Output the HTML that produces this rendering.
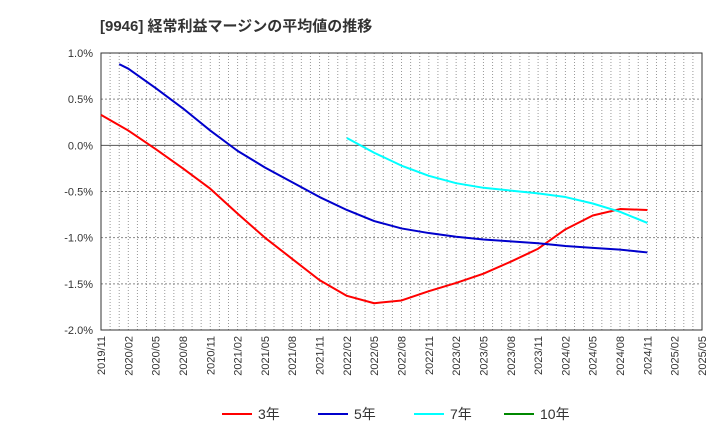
<!DOCTYPE html>
<html><head><meta charset="utf-8"><style>
body{margin:0;background:#fff;font-family:"Liberation Sans","Noto Sans CJK JP",sans-serif}
</style></head><body>
<svg width="720" height="440" xmlns="http://www.w3.org/2000/svg" font-family="Liberation Sans, Noto Sans CJK JP, sans-serif">
<text x="100" y="31" font-size="15" font-weight="bold" fill="#333">[9946]  経常利益マージンの平均値の推移</text>
<g id="grid"></g>
<g id="axes"></g>
<g id="series"></g>
<g id="legend"></g>
</svg>
<script>
const xLabels=["2019/11","2020/02","2020/05","2020/08","2020/11","2021/02","2021/05","2021/08","2021/11","2022/02","2022/05","2022/08","2022/11","2023/02","2023/05","2023/08","2023/11","2024/02","2024/05","2024/08","2024/11","2025/02","2025/05"];
const yTicks=[1.0,0.5,0.0,-0.5,-1.0,-1.5,-2.0];
const s3=[0.33,0.16,-0.04,-0.25,-0.47,-0.74,-1.0,-1.23,-1.46,-1.63,-1.71,-1.68,-1.58,-1.49,-1.39,-1.26,-1.12,-0.91,-0.76,-0.69,-0.70];
const s3Months=[0,3,6,9,12,15,18,21,24,27,30,33,36,39,42,45,48,51,54,57,60];
const s5=[0.88,0.83,0.62,0.40,0.16,-0.06,-0.24,-0.40,-0.56,-0.70,-0.82,-0.90,-0.95,-0.99,-1.02,-1.04,-1.06,-1.09,-1.11,-1.13,-1.16];
const s5Months=[2,3,6,9,12,15,18,21,24,27,30,33,36,39,42,45,48,51,54,57,60];
const s7=[0.08,-0.08,-0.22,-0.33,-0.41,-0.46,-0.49,-0.52,-0.56,-0.63,-0.72,-0.84];
const s7Months=[27,30,33,36,39,42,45,48,51,54,57,60];
const s10=[];
const s10Months=[];
const L=101,R=702,T=53,B=330,NS="http://www.w3.org/2000/svg";
const xm=m=>L+(R-L)*m/66;
const y=v=>T+(1.0-v)/3.0*(B-T);
function el(t,a,p){const e=document.createElementNS(NS,t);for(const k in a)e.setAttribute(k,a[k]);p.appendChild(e);return e;}
const grid=document.getElementById('grid'),axes=document.getElementById('axes'),ser=document.getElementById('series'),leg=document.getElementById('legend');
for(let m=1;m<66;m++){const l=el('line',{x1:xm(m),x2:xm(m),y1:T,y2:B,stroke:'#999','stroke-dasharray':'1,2','stroke-width':1},grid);}
yTicks.forEach(v=>{const l=el('line',{x1:L,x2:R,y1:y(v),y2:y(v),stroke:v===0?'#555':'#888','stroke-dasharray':v===0?'none':'2,2','stroke-width':1},grid);
const t=el('text',{x:L-8,y:y(v)+4,'text-anchor':'end','font-size':11,fill:'#333'},axes);t.textContent=v.toFixed(1)+'%';});
const fr=el('rect',{x:L,y:T,width:R-L,height:B-T,fill:'none',stroke:'#333'},axes);
xLabels.forEach((s,i)=>{const x=xm(i*3);const t=el('text',{x:x+4,y:B+6,'text-anchor':'end','font-size':11,fill:'#333',transform:`rotate(-90 ${x+4} ${B+6})`},axes);t.textContent=s;});
function draw(arr,months,color,name){if(!arr.length)return;const pts=arr.map((v,i)=>xm(months[i])+','+y(v)).join(' ');const p=el('polyline',{points:pts,fill:'none',stroke:color,'stroke-width':2,'stroke-linejoin':'round'},ser);}
draw(s3,s3Months,'#f00','line-3y');draw(s5,s5Months,'#00c','line-5y');draw(s7,s7Months,'#0ff','line-7y');draw(s10,s10Months,'#080','line-10y');
[['3年','#f00',222],['5年','#00c',318],['7年','#0ff',414],['10年','#080',504]].forEach(([n,c,x])=>{const g=el('g',{},leg);el('line',{x1:x,x2:x+30,y1:414,y2:414,stroke:c,'stroke-width':2},g);const t=el('text',{x:x+36,y:419,'font-size':14,fill:'#333'},g);t.textContent=n;});
</script>
</body></html>
